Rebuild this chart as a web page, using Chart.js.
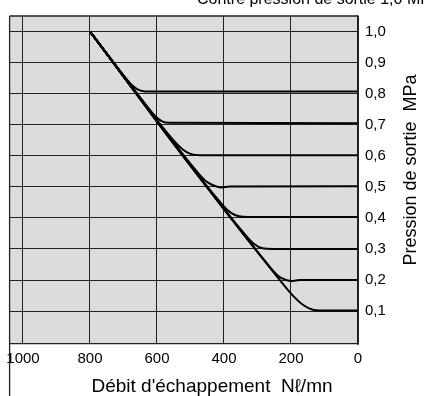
<!DOCTYPE html>
<html>
<head>
<meta charset="utf-8">
<script src="https://cdn.jsdelivr.net/npm/chart.js@4.4.0/dist/chart.umd.min.js"></script>
<style>
    body { margin: 0; background: #fff; }
    #wrap { width: 425px; height: 396px; }
</style>
</head>
<body>
<div id="wrap"><canvas id="flow-chart" width="425" height="396"></canvas></div>
<script>
// Axis ticks
const xTicks = [1000, 800, 600, 400, 200, 0];
const yTicks = [0.1, 0.2, 0.3, 0.4, 0.5, 0.6, 0.7, 0.8, 0.9, 1.0];
const yTickLabels = ['0,1', '0,2', '0,3', '0,4', '0,5', '0,6', '0,7', '0,8', '0,9', '1,0'];

// One curve per set pressure (flow Nl/mn, outlet pressure MPa)
const flow08 = [800, 700, 675, 655, 635, 0];
const pres08 = [1.0, 0.859, 0.828, 0.812, 0.807, 0.807];
const flow07 = [800, 630, 605, 585, 565, 0];
const pres07 = [1.0, 0.760, 0.727, 0.711, 0.706, 0.705];
const flow06 = [800, 555, 525, 500, 470, 0];
const pres06 = [1.0, 0.655, 0.622, 0.606, 0.602, 0.602];
const flow05 = [800, 475, 450, 425, 405, 385, 0];
const pres05 = [1.0, 0.542, 0.515, 0.502, 0.498, 0.501, 0.502];
const flow04 = [800, 405, 380, 355, 330, 0];
const pres04 = [1.0, 0.443, 0.417, 0.405, 0.403, 0.403];
const flow03 = [800, 335, 310, 285, 255, 0];
const pres03 = [1.0, 0.344, 0.316, 0.302, 0.300, 0.300];
const flow02 = [800, 262, 238, 215, 195, 175, 0];
const pres02 = [1.0, 0.241, 0.213, 0.200, 0.197, 0.200, 0.200];
const flow01 = [800, 220, 190, 160, 135, 115, 0];
const pres01 = [1.0, 0.182, 0.145, 0.117, 0.104, 0.102, 0.102];

const curves = [
    [flow08, pres08], [flow07, pres07], [flow06, pres06], [flow05, pres05],
    [flow04, pres04], [flow03, pres03], [flow02, pres02], [flow01, pres01]
];

const FONT = "'Liberation Sans', Arial, Helvetica, sans-serif";

// background, extra borders and titles
const extras = {
    id: 'extras',
    beforeDraw(chart) {
        const ctx = chart.ctx;
        const a = chart.chartArea;
        ctx.save();
        ctx.fillStyle = '#dcdcdc';
        ctx.fillRect(a.left, a.top, a.right - a.left, a.bottom - a.top);
        ctx.restore();
    },
    afterDraw(chart) {
        const ctx = chart.ctx;
        const a = chart.chartArea;
        ctx.save();
        ctx.strokeStyle = '#222';
        ctx.lineWidth = 1.3;
        ctx.beginPath();
        ctx.moveTo(a.left, a.top);
        ctx.lineTo(a.right, a.top);
        ctx.moveTo(a.left, a.top);
        ctx.lineTo(a.left, chart.height);
        ctx.moveTo(a.right, a.top);
        ctx.lineTo(a.right, a.bottom);
        ctx.stroke();

        ctx.fillStyle = '#000';
        ctx.font = '19px ' + FONT;
        ctx.textAlign = 'center';
        ctx.textBaseline = 'middle';
        ctx.fillText('Débit d\'échappement  N\u2113/mn', 212, 387);

        ctx.font = '18px ' + FONT;
        ctx.save();
        ctx.translate(411, 170);
        ctx.rotate(-Math.PI / 2);
        ctx.fillText('Pression de sortie  MPa', 0, 0);
        ctx.restore();

        // cut-off caption at the very top
        ctx.font = '16px ' + FONT;
        ctx.textAlign = 'left';
        ctx.textBaseline = 'alphabetic';
        ctx.fillText('Contre pression de sortie 1,0 MPa', 197, 4);
        ctx.restore();
    }
};

const ctx = document.getElementById('flow-chart').getContext('2d');
const flowChart = new Chart(ctx, {
    type: 'line',
    data: {
        datasets: curves.map(c => ({
            data: c[0].map((x, i) => ({ x: x, y: c[1][i] })),
            borderColor: '#000',
            borderWidth: 2,
            pointRadius: 0,
            fill: false,
            cubicInterpolationMode: 'monotone'
        }))
    },
    options: {
        responsive: false,
        animation: false,
        layout: {
            padding: { left: 8, top: 9, right: 0, bottom: 0 }
        },
        plugins: {
            legend: { display: false },
            tooltip: { enabled: false }
        },
        scales: {
            x: {
                type: 'linear',
                reverse: true,
                min: 0,
                max: 1040,
                afterBuildTicks: scale => { scale.ticks = xTicks.map(v => ({ value: v })); },
                afterFit: scale => { scale.height = 52; },
                grid: { color: '#222', lineWidth: 1, drawTicks: false },
                border: { display: true, color: '#222', width: 1.3 },
                ticks: {
                    padding: 6,
                    color: '#000',
                    maxRotation: 0,
                    font: { family: FONT, size: 15 },
                    callback: v => String(v)
                }
            },
            y: {
                type: 'linear',
                position: 'right',
                min: -0.006,
                max: 1.05,
                afterBuildTicks: scale => { scale.ticks = yTicks.map(v => ({ value: v })); },
                afterFit: scale => { scale.width = 67; },
                grid: { color: '#222', lineWidth: 1, drawTicks: false },
                border: { display: true, color: '#222', width: 1.3 },
                ticks: {
                    padding: 7,
                    color: '#000',
                    font: { family: FONT, size: 15 },
                    callback: (v, i) => yTickLabels[i]
                }
            }
        }
    },
    plugins: [extras]
});
</script>
</body>
</html>
